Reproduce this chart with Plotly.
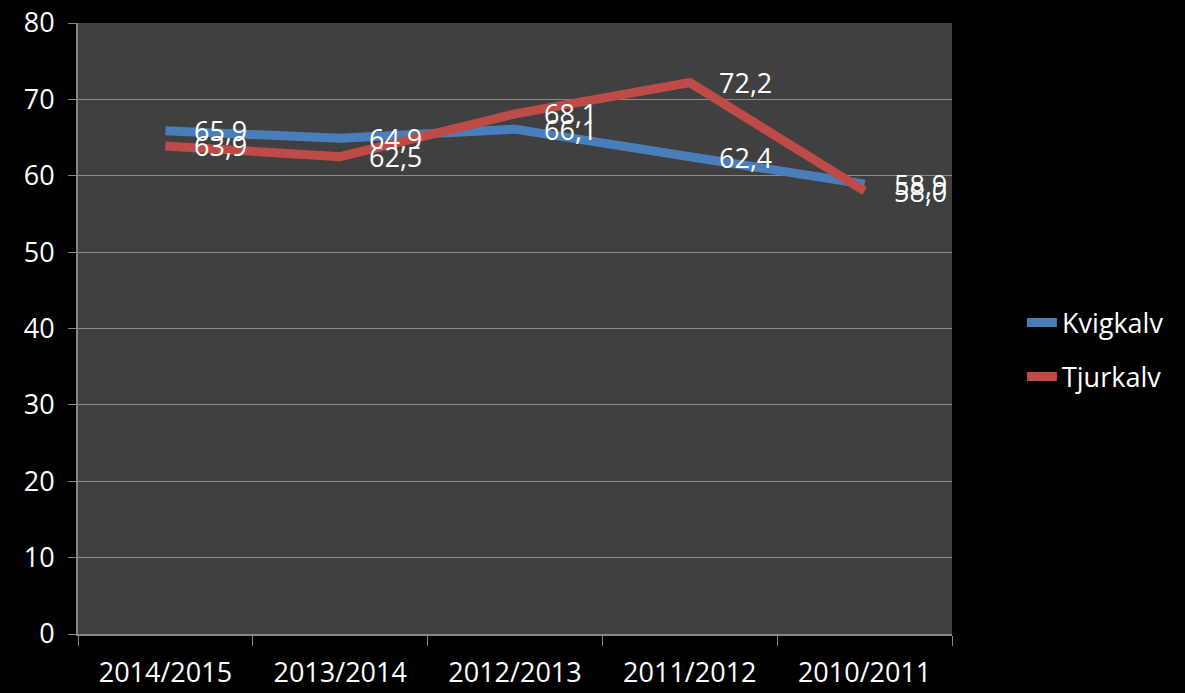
import plotly.graph_objects as go

categories = ["2014/2015", "2013/2014", "2012/2013", "2011/2012", "2010/2011"]
kvigkalv = [65.9, 64.9, 66.1, 62.4, 58.9]
tjurkalv = [63.9, 62.5, 68.1, 72.2, 58.0]
y_ticks = [0, 10, 20, 30, 40, 50, 60, 70, 80]

FONT = "Open Sans"
BLUE = "#4A7EBB"
RED = "#BE4B48"
FS = 27

fig = go.Figure()
series = [("Kvigkalv", kvigkalv, BLUE), ("Tjurkalv", tjurkalv, RED)]
for name, vals, col in series:
    fig.add_trace(go.Scatter(
        x=categories, y=vals, name=name, mode="lines",
        line=dict(color=col, width=9), legendgroup=name,
    ))

for name, vals, col in series:
    for c, v in zip(categories, vals):
        fig.add_annotation(
            x=c, y=v, text=f"{v:.1f}".replace(".", ","),
            xanchor="left", yanchor="middle", xshift=27, showarrow=False,
            font=dict(family=FONT, size=FS, color="white"),
        )

fig.update_layout(
    width=1185, height=693,
    paper_bgcolor="black", plot_bgcolor="#404040",
    margin=dict(l=78, r=233, t=23, b=59),
    font=dict(family=FONT, size=FS, color="white"),
    showlegend=True,
    legend=dict(x=1.08, y=0.465, xanchor="left", yanchor="middle",
                font=dict(family=FONT, size=FS, color="white"),
                bgcolor="rgba(0,0,0,0)", tracegroupgap=16),
)
fig.update_xaxes(
    type="category", tickson="boundaries", ticks="outside", ticklen=10,
    tickcolor="#868686", showline=True, linecolor="#868686", linewidth=2,
    showgrid=False, tickfont=dict(family=FONT, size=FS, color="white"),
    range=[-0.5, 4.5], automargin=False, ticklabelstandoff=14,
)
fig.update_yaxes(
    range=[0, 80], tickvals=y_ticks, ticks="outside", ticklen=8,
    tickcolor="#868686", showline=True, linecolor="#868686", linewidth=2,
    gridcolor="#8C8C8C", gridwidth=1, zeroline=False,
    tickfont=dict(family=FONT, size=FS, color="white"),
    automargin=False, ticklabelstandoff=8,
)

fig.write_html(
    "out.html",
    config={"displayModeBar": False},
    post_script="document.body.style.margin='0';document.body.style.overflow='hidden';document.body.style.background='black';",
)
